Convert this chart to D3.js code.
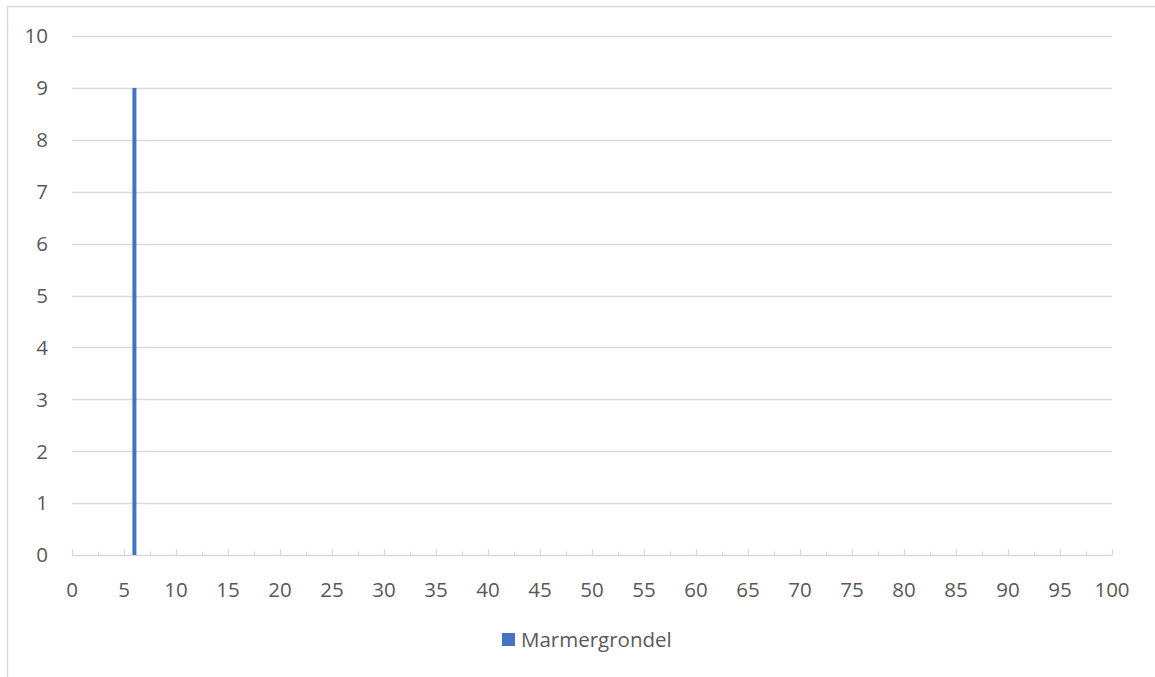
<!DOCTYPE html>
<html><head><meta charset="utf-8">
<script src="https://cdn.jsdelivr.net/npm/d3@7"></script>
<style>body{margin:0;background:#fff}svg{display:block}text{font-family:"Open Sans","Noto Sans",sans-serif;fill:#595959}</style>
</head><body><svg id="c" width="1155" height="677"></svg>
<script>
const seriesName = "Marmergrondel";
const xValues = [6];
const yValues = [9];
const xTicks = d3.range(0, 101, 5);
const xMinorTicks = d3.range(2.5, 100, 5);
const yTicks = d3.range(0, 11, 1);

const svg = d3.select("#c");
const x = d3.scaleLinear().domain([0, 100]).range([72, 1112]);
const y = d3.scaleLinear().domain([0, 10]).range([555, 36]);

svg.append("rect").attr("x", 7.5).attr("y", 6.5).attr("width", 1160).attr("height", 690)
  .attr("fill", "#fff").attr("stroke", "#d9d9d9").attr("stroke-width", 1.5);

// gridlines
svg.append("g").selectAll("line").data(yTicks.filter(d => d > 0)).join("line")
  .attr("x1", x(0)).attr("x2", x(100)).attr("y1", d => Math.round(y(d)) + 0.5).attr("y2", d => Math.round(y(d)) + 0.5)
  .attr("stroke", "#d9d9d9").attr("stroke-width", 1.3);

// y labels
svg.append("g").selectAll("text").data(yTicks).join("text")
  .attr("x", 48).attr("y", d => y(d)).attr("dy", "0.36em").attr("text-anchor", "end")
  .attr("font-size", 20.5).text(d => d);

// x axis
const xAxis = svg.append("g").attr("transform", `translate(0,${Math.round(y(0)) + 0.5})`);
xAxis.append("line").attr("x1", x(0)).attr("x2", x(100)).attr("stroke", "#d9d9d9").attr("stroke-width", 1.3);
xAxis.selectAll(".maj").data(xTicks).join("line").attr("class", "maj")
  .attr("x1", d => Math.round(x(d)) + 0.5).attr("x2", d => Math.round(x(d)) + 0.5).attr("y1", 0).attr("y2", -6)
  .attr("stroke", "#d9d9d9").attr("stroke-width", 1.3);
xAxis.selectAll(".min").data(xMinorTicks).join("line").attr("class", "min")
  .attr("x1", d => Math.round(x(d)) + 0.5).attr("x2", d => Math.round(x(d)) + 0.5).attr("y1", 0).attr("y2", -4)
  .attr("stroke", "#d9d9d9").attr("stroke-width", 1.3);
xAxis.selectAll("text").data(xTicks).join("text")
  .attr("x", d => x(d)).attr("y", 41).attr("text-anchor", "middle").attr("font-size", 20.5).text(d => d);

// bars
svg.append("g").selectAll("rect").data(xValues.map((v, i) => ({x: v, y: yValues[i]}))).join("rect")
  .attr("x", d => x(d.x) - 2).attr("width", 4).attr("y", d => y(d.y)).attr("height", d => y(0) - y(d.y))
  .attr("fill", "#4472c4");

// legend
const lg = svg.append("g");
lg.append("rect").attr("x", 502).attr("y", 633).attr("width", 13).attr("height", 13).attr("fill", "#4472c4");
lg.append("text").attr("x", 521).attr("y", 640).attr("dy", "0.36em").attr("font-size", 20.5).text(seriesName);
</script></body></html>
